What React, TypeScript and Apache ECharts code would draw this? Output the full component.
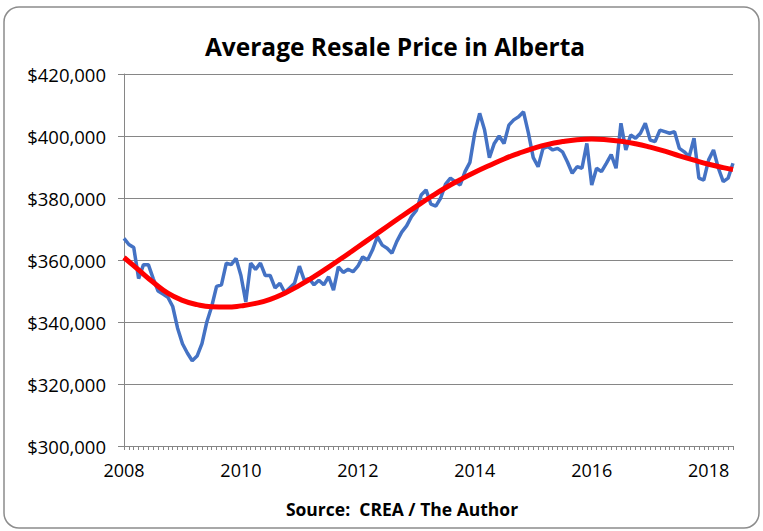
import React, { useEffect, useRef } from "react";
import * as echarts from "echarts";

const titleText = "Average Resale Price in Alberta";
const sourceText = "Source:  CREA / The Author";
const startYear = 2008;
const monthCount = 126;
const yMin = 300000;
const yMax = 420000;
const yStep = 20000;

// Monthly average resale price, Jan 2008 .. Jun 2018
const priceValues = [
  367000, 365000, 364000, 354000, 358500, 358500, 354000, 350000, 349000, 348000, 345000, 338000,
  333000, 330000, 327500, 329000, 333000, 340000, 345000, 351500, 352000, 359000, 358500, 360500,
  355000, 346500, 359000, 357000, 359000, 355000, 355000, 351000, 352500, 349500, 351000, 352500,
  358000, 353500, 354000, 352000, 353500, 352000, 354600, 350300, 357800, 356000, 357000, 356200,
  358000, 361000, 360000, 363200, 367500, 364800, 363800, 362200, 366000, 369000, 371000, 374000,
  376000, 381000, 382600, 378000, 377400, 380000, 384500, 386400, 385300, 384200, 388500, 391500,
  401000, 407300, 402000, 393000, 397600, 400000, 397600, 403500, 405200, 406200, 407800, 401000,
  393000, 390100, 396000, 396600, 395500, 396000, 394900, 391700, 388000, 390100, 389600, 397600,
  384200, 389600, 388500, 391200, 394000, 389600, 404100, 395500, 400300, 399300, 400900, 404100,
  398700, 398200, 401900, 401400, 400900, 401400, 396000, 394900, 393300, 399300, 386400, 385800,
  392300, 395500, 389600, 385300, 386400, 391200,
];

// Trend line read at these month indexes
const trendMonths = [
  0, 3, 6, 9, 12, 15, 18, 21, 24, 27, 30, 33, 36, 39, 42, 45, 48, 51, 54, 57, 60, 63,
  66, 69, 72, 75, 78, 81, 84, 87, 90, 93, 96, 99, 102, 105, 108, 111, 114, 117, 120, 123, 125,
];
const trendValues = [
  360800, 356800, 352800, 349300, 347000, 345600, 344900, 344800, 345200, 346000, 347300,
  349300, 351800, 354600, 357700, 360900, 364200, 367500, 370800, 374100, 377300, 380400,
  383300, 385900, 388300, 390500, 392600, 394400, 396000, 397300, 398200, 398800, 399000,
  398800, 398300, 397500, 396400, 395100, 393600, 392200, 390900, 389800, 389200,
];

const FONT = "Open Sans";

export default function App() {
  const ref = useRef<HTMLDivElement>(null);
  useEffect(() => {
    document.body.style.margin = "0";
    const chart = echarts.init(ref.current!, null, { renderer: "svg" });
    const categories = Array.from({ length: monthCount }, (_, i) =>
      `${startYear + Math.floor(i / 12)}-${String((i % 12) + 1).padStart(2, "0")}`
    );
    const trend: (number | null)[] = categories.map(() => null);
    trendMonths.forEach((m, k) => {
      trend[m] = trendValues[k];
    });
    chart.setOption({
      animation: false,
      backgroundColor: "#ffffff",
      title: {
        text: titleText,
        left: 390,
        textAlign: "center",
        top: 29,
        textStyle: { fontFamily: FONT, fontWeight: "bold", fontSize: 24.5, color: "#000" },
      },
      grid: { left: 124, top: 74, width: 609, height: 372 },
      xAxis: {
        type: "category",
        data: categories,
        boundaryGap: false,
        axisLine: { lineStyle: { color: "#868686", width: 1 } },
        axisTick: { show: true, interval: 0, length: 4, lineStyle: { color: "#868686" } },
        axisLabel: {
          interval: (i: number) => i % 24 === 0,
          formatter: (v: string) => v.slice(0, 4),
          margin: 15,
          fontFamily: FONT,
          fontSize: 18,
          color: "#000",
        },
        splitLine: { show: false },
      },
      yAxis: {
        type: "value",
        min: yMin,
        max: yMax,
        interval: yStep,
        axisLine: { show: true, lineStyle: { color: "#868686" } },
        axisTick: { show: true, length: 6, lineStyle: { color: "#868686" } },
        axisLabel: {
          formatter: (v: number) => "$" + v.toLocaleString("en-US"),
          margin: 18,
          fontFamily: FONT,
          fontSize: 18.5,
          color: "#000",
        },
        splitLine: { lineStyle: { color: "#868686", width: 1 } },
      },
      series: [
        {
          type: "line",
          data: priceValues,
          symbol: "none",
          lineStyle: { color: "#4472C4", width: 3.5 },
          z: 2,
        },
        {
          type: "line",
          data: trend,
          connectNulls: true,
          smooth: true,
          symbol: "none",
          lineStyle: { color: "#FF0000", width: 5 },
          z: 3,
        },
      ],
      graphic: [
        {
          type: "rect",
          shape: { x: 4, y: 7, width: 755, height: 521, r: 15 },
          style: { fill: "none", stroke: "#8c8c8c", lineWidth: 1.5 },
          z: -1,
        },
        {
          type: "text",
          x: 402,
          y: 509,
          style: {
            text: sourceText,
            fontFamily: FONT,
            fontWeight: "bold",
            fontSize: 17.5,
            fill: "#000",
            textAlign: "center",
            textVerticalAlign: "middle",
          },
        },
      ],
    });
    return () => chart.dispose();
  }, []);
  return <div ref={ref} style={{ width: 763, height: 531 }} />;
}
